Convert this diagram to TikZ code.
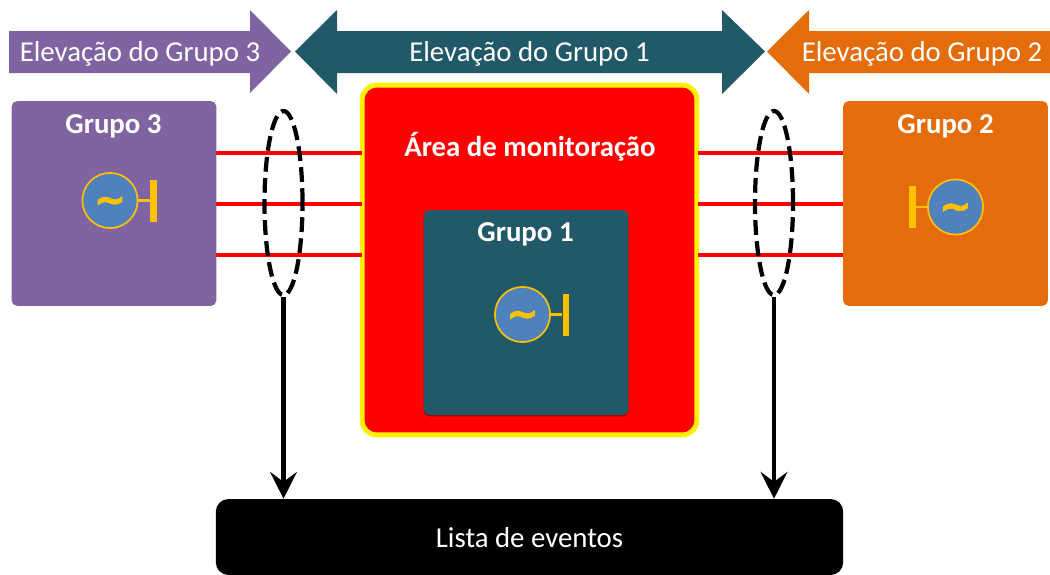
\documentclass[tikz,border=0pt]{standalone}
\usepackage{xcolor}
\usepackage{fontspec}
\setmainfont{Carlito}
\newfontfamily\tilfont[FakeBold=2.5]{DejaVu Sans Bold}
\newcommand{\onda}{\raisebox{-0.32em}[0pt][0pt]{\char"7E}}
\usetikzlibrary{shapes.geometric, arrows.meta, positioning, shadows, calc}
\definecolor{grpviolet}{HTML}{8064A2}
\definecolor{grpteal}{HTML}{215968}
\definecolor{grporange}{HTML}{E46C0A}
\definecolor{gerblue}{HTML}{4F81BD}
\definecolor{geramber}{HTML}{FFC000}

\begin{document}
\begin{tikzpicture}[
    x=0.025cm, y=-0.025cm,
    % Styles
    grupobox/.style={rectangle, minimum width=5.12cm, minimum height=5.12cm, rounded corners=4pt, inner sep=0pt},
    titulo/.style={font=\fontsize{20.5}{24}\selectfont\bfseries, text=white},
    faixa/.style={font=\fontsize{20.5}{24}\selectfont, text=white},
    linha/.style={draw=red, line width=2.2pt},
    laco/.style={ellipse, draw=black, line width=3pt, dash pattern=on 10.5pt off 4.5pt, minimum width=0.95cm, minimum height=4.6cm, inner sep=0pt},
    seta/.style={-{Stealth[length=19pt, width=19pt, inset=7pt]}, line width=3pt, black},
    gerador/.style={circle, draw=geramber, fill=gerblue, line width=1.2pt, minimum size=1.38cm, inner sep=0pt, font=\tilfont\fontsize{27}{27}\selectfont, text=geramber},
    barra/.style={rectangle, fill=geramber, minimum width=0.165cm, minimum height=1.05cm, inner sep=0pt},
    ramal/.style={draw=geramber, line width=1.8pt}
]
\useasboundingbox (0,0) rectangle (1050,574);

% Elevation arrows
\fill[grpviolet] (9,31) -- (250,31) -- (250,10) -- (291,51.5) -- (250,93) -- (250,73) -- (9,73) -- cycle;
\node[faixa] (elev3) at (140,54) {Elevação do Grupo 3};
\fill[grpteal] (295,51.5) -- (337,10) -- (337,31) -- (722,31) -- (722,10) -- (765,51.5) -- (722,94) -- (722,73) -- (337,73) -- (337,94) -- cycle;
\node[faixa] (elev1) at (529.5,54) {Elevação do Grupo 1};
\fill[grporange] (767,51.5) -- (809,10) -- (809,31) -- (1050,31) -- (1050,73) -- (809,73) -- (809,94) -- cycle;
\node[faixa] (elev2) at (922,54) {Elevação do Grupo 2};

% Groups
\node[grupobox, fill=grpviolet] (g3) at (114,203.5) {};
\node[grupobox, fill=grporange] (g2) at (945.5,203.5) {};
\node[rectangle, draw=yellow, fill=red, line width=3.5pt, rounded corners=10pt, minimum width=8.36cm, minimum height=8.74cm, inner sep=0pt] (area) at (529.5,260) {};
\node[grupobox, fill=grpteal, drop shadow={shadow xshift=0pt, shadow yshift=-1pt, fill=black!60!red, opacity=0.6}] (g1) at (526,312.5) {};
\node[titulo] (t3) at (113.5,126.5) {Grupo 3};
\node[titulo] (t2) at (945.5,126.5) {Grupo 2};
\node[titulo] (t1) at (525.5,234.5) {Grupo 1};
\node[titulo] (tarea) at (530,146.5) {Área de monitoração};

% Lines between groups and area
\foreach \yy in {153,204,255} {
    \coordinate (l3\yy) at (216,\yy);
    \coordinate (la\yy) at (362,\yy);
    \coordinate (ra\yy) at (698,\yy);
    \coordinate (r2\yy) at (843,\yy);
    \draw[linha] (l3\yy) -- (la\yy);
    \draw[linha] (ra\yy) -- (r2\yy);
}

% Generators
\node[gerador] (ger3) at (110,200.5) {\onda};
\node[barra] (bar3) at (153.3,200.5) {};
\draw[ramal] (ger3) -- (bar3);
\node[gerador] (ger2) at (955.5,207) {\onda};
\node[barra] (bar2) at (912.5,207) {};
\draw[ramal] (ger2) -- (bar2);
\node[gerador] (ger1) at (522.5,314.5) {\onda};
\node[barra] (bar1) at (566,314.5) {};
\draw[ramal] (ger1) -- (bar1);

% Events list
\node[rectangle, fill=black, rounded corners=9pt, minimum width=15.68cm, minimum height=1.9cm, inner sep=0pt, text=white, text height=15pt, font=\fontsize{20.5}{24}\selectfont] (lista) at (529.5,537) {Lista de eventos};

% Measurement loops
\node[laco] (laco3) at (283.5,203) {};
\node[laco] (laco2) at (774,203) {};
\draw[seta] (laco3.south) -- (laco3.south |- lista.north);
\draw[seta] (laco2.south) -- (laco2.south |- lista.north);
\end{tikzpicture}
\end{document}
